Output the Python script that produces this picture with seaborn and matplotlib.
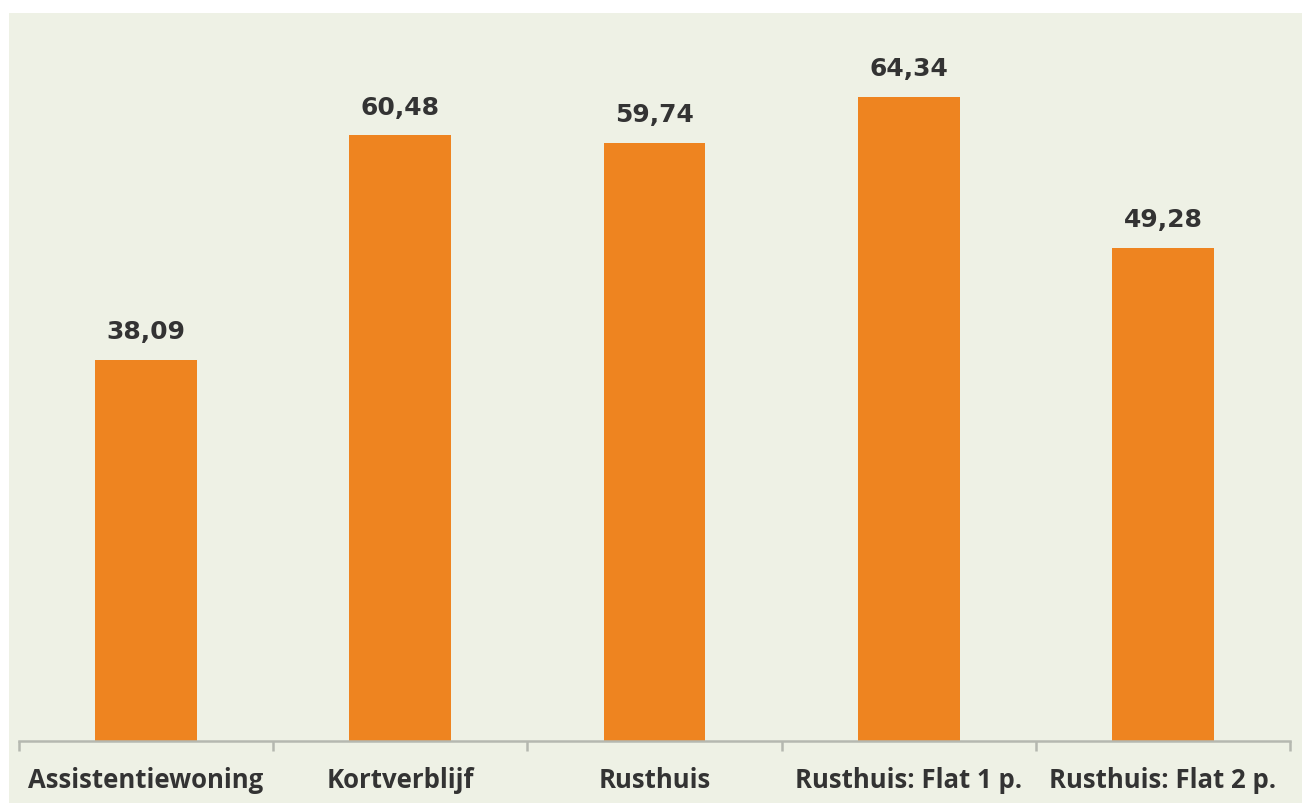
import matplotlib
matplotlib.use("Agg")
import matplotlib.pyplot as plt
import seaborn as sns
import pandas as pd
from matplotlib.patches import Rectangle

categories = ["Assistentiewoning", "Kortverblijf", "Rusthuis", "Rusthuis: Flat 1 p.", "Rusthuis: Flat 2 p."]
values = [38.09, 60.48, 59.74, 64.34, 49.28]

df = pd.DataFrame({"cat": categories, "val": values})

sns.set_style("white")
plt.rcParams["font.family"] = ["Open Sans", "DejaVu Sans"]

W, H = 1302, 804
fig = plt.figure(figsize=(W / 100, H / 100), dpi=100)
fig.patch.set_facecolor("white")
bg = "#eef1e5"
fig.patches.append(Rectangle((9 / W, 0), 1 - 9 / W, 1 - 14 / H, transform=fig.transFigure,
                             facecolor=bg, edgecolor="none", zorder=-10))

ax = fig.add_axes([19 / W, (H - 742) / H, (1290 - 19) / W, (742 - 14) / H])
ax.set_facecolor("none")

sns.barplot(data=df, x="cat", y="val", color="#ee8420", saturation=1, width=0.40,
            edgecolor="none", linewidth=0, ax=ax)

ax.set_xlim(-0.5, len(categories) - 0.5)
ax.set_ylim(0, 72.7)

for p, v in zip(ax.patches, values):
    ax.annotate(f"{v:.2f}".replace(".", ","), (p.get_x() + p.get_width() / 2, p.get_height()),
                xytext=(0, 12), textcoords="offset points", ha="center", va="bottom",
                fontsize=18, fontweight="bold", color="#333333",
                fontfamily=["DejaVu Sans"])

for s in ["top", "right", "left"]:
    ax.spines[s].set_visible(False)
ax.spines["bottom"].set_color("#b5b8b0")
ax.spines["bottom"].set_linewidth(1.8)
ax.set_yticks([])
ax.set_xlabel("")
ax.set_ylabel("")

ax.set_xticks(range(len(categories)))
ax.set_xticklabels(categories, fontsize=18.5, fontweight="bold", color="#333333")
ax.tick_params(axis="x", which="major", length=0, pad=18)
ax.set_xticks([i - 0.5 for i in range(len(categories) + 1)], minor=True)
ax.tick_params(axis="x", which="minor", bottom=True, length=7, width=1.8,
               color="#b5b8b0", direction="out")

fig.savefig("out.png", dpi=100, facecolor=fig.get_facecolor())
